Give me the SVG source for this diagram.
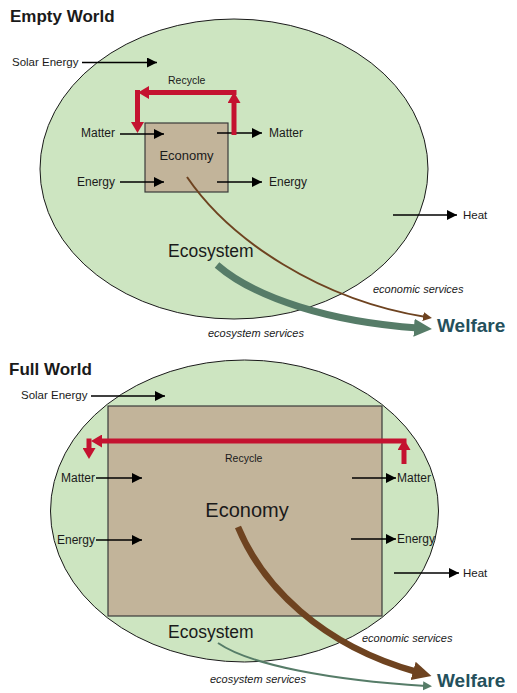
<svg xmlns="http://www.w3.org/2000/svg" width="517" height="693" viewBox="0 0 517 693">
<style>
text{font-family:"Liberation Sans",Arial,sans-serif;fill:#1a1a1a}
.title{font-size:17px;font-weight:bold}
.lbl{font-size:12px}
.sm{font-size:10.5px}
.it{font-size:11px;font-style:italic}
.big{font-size:17.5px}
.welfare{font-size:19px;font-weight:bold;fill:#24505c}
.world{fill:#cde5c1;stroke:#1a1a1a;stroke-width:1}
.econ{fill:#c2b49a;stroke:#3a3a3a;stroke-width:1.2}
.blk{stroke:#000;stroke-width:1.5;fill:none;marker-end:url(#ab)}
.red{stroke:#c41230;stroke-width:5;fill:none;marker-end:url(#ar)}
</style>
<defs>
<marker id="ab" markerUnits="userSpaceOnUse" markerWidth="11" markerHeight="11" refX="10" refY="5" orient="auto"><path d="M0,0 L10,5 L0,10 z" fill="#000"/></marker>
<marker id="ar" markerUnits="userSpaceOnUse" markerWidth="13" markerHeight="13" refX="4" refY="6.5" orient="auto"><path d="M0,0 L11,6.5 L0,13 z" fill="#c41230"/></marker>
<marker id="abr" markerUnits="userSpaceOnUse" markerWidth="10" markerHeight="10" refX="3" refY="4.5" orient="auto"><path d="M0,0 L9,4.5 L0,9 z" fill="#6e4320"/></marker>
<marker id="abrB" markerUnits="userSpaceOnUse" markerWidth="20" markerHeight="20" refX="4" refY="9.5" orient="auto"><path d="M0,0 L19,9.5 L0,19 z" fill="#6e4320"/></marker>
<marker id="agr" markerUnits="userSpaceOnUse" markerWidth="10" markerHeight="10" refX="3" refY="4.5" orient="auto"><path d="M0,0 L9,4.5 L0,9 z" fill="#567c68"/></marker>
<marker id="agrB" markerUnits="userSpaceOnUse" markerWidth="20" markerHeight="20" refX="4" refY="9" orient="auto"><path d="M0,0 L18,9 L0,18 z" fill="#567c68"/></marker>
</defs>

<text class="title" x="10" y="22">Empty World</text>
<text class="title" x="9" y="375">Full World</text>

<g id="empty-world"><ellipse class="world" cx="234" cy="169" rx="194" ry="150"/>
<text class="big" x="168" y="257">Ecosystem</text></g>
<g id="empty-economy"><rect class="econ" x="145" y="123" width="83" height="69"/>
<text x="186.5" y="160" text-anchor="middle" style="font-size:13px">Economy</text></g>

<g id="full-world"><ellipse class="world" cx="244.5" cy="511" rx="194" ry="151"/>
<text class="big" x="168" y="638">Ecosystem</text></g>
<g id="full-economy"><rect class="econ" x="108" y="406" width="274" height="210"/>
<text x="247" y="517" text-anchor="middle" style="font-size:20px">Economy</text></g>

<g id="labels">
<text class="lbl" x="12" y="66" style="font-size:11.5px">Solar Energy</text>
<text class="lbl" x="115" y="137" text-anchor="end">Matter</text>
<text class="lbl" x="115" y="186" text-anchor="end">Energy</text>
<text class="lbl" x="269" y="137">Matter</text>
<text class="lbl" x="269" y="186">Energy</text>
<text class="lbl" x="463" y="219" style="font-size:11.5px">Heat</text>
<text class="sm" x="168" y="84">Recycle</text>
<text class="it" x="373" y="293">economic services</text>
<text class="it" x="208" y="337">ecosystem services</text>
<text class="welfare" x="437" y="332">Welfare</text>

<text class="lbl" x="21" y="399" style="font-size:11.5px">Solar Energy</text>
<text class="lbl" x="95" y="482" text-anchor="end">Matter</text>
<text class="lbl" x="95" y="544" text-anchor="end">Energy</text>
<text class="lbl" x="397" y="482">Matter</text>
<text class="lbl" x="397" y="543">Energy</text>
<text class="lbl" x="463" y="577" style="font-size:11.5px">Heat</text>
<text class="sm" x="225" y="462">Recycle</text>
<text class="it" x="362" y="642">economic services</text>
<text class="it" x="210" y="683">ecosystem services</text>
<text class="welfare" x="437" y="687">Welfare</text>
</g>

<g id="connectors">
<line class="blk" x1="82" y1="62.5" x2="157" y2="62.5"/>
<line class="blk" x1="120" y1="134" x2="164" y2="134"/>
<line class="blk" x1="120" y1="182" x2="164" y2="182"/>
<line class="blk" x1="217" y1="133" x2="262" y2="133"/>
<line class="blk" x1="217" y1="182" x2="262" y2="182"/>
<line class="blk" x1="393" y1="215" x2="457" y2="215"/>
<line class="red" x1="234" y1="135" x2="234" y2="99"/>
<line class="red" x1="236.5" y1="92.5" x2="145" y2="92.5"/>
<line class="red" x1="137.5" y1="90" x2="137.5" y2="126"/>
<path d="M187,177 C230,240 320,300 426,317" stroke="#6e4320" stroke-width="2" fill="none" marker-end="url(#abr)"/>
<path d="M217,265 C255,298 330,322 418,328" stroke="#567c68" stroke-width="7" fill="none" marker-end="url(#agrB)"/>

<line class="blk" x1="91" y1="396" x2="165" y2="396"/>
<line class="blk" x1="96" y1="478" x2="142" y2="478"/>
<line class="blk" x1="96" y1="540" x2="142" y2="540"/>
<line class="blk" x1="352" y1="478" x2="396" y2="478"/>
<line class="blk" x1="351" y1="539" x2="396" y2="539"/>
<line class="blk" x1="394" y1="573" x2="459" y2="573"/>
<line class="red" x1="404" y1="464" x2="404" y2="446"/>
<line class="red" x1="406.5" y1="441" x2="98" y2="441"/>
<line class="red" x1="89" y1="438.5" x2="89" y2="452"/>
<path d="M238,527 C262,585 320,645 417,672" stroke="#6e4320" stroke-width="6.5" fill="none" marker-end="url(#abrB)"/>
<path d="M218,643 C250,665 330,680 426,686" stroke="#567c68" stroke-width="2" fill="none" marker-end="url(#agr)"/>
</g>
</svg>
